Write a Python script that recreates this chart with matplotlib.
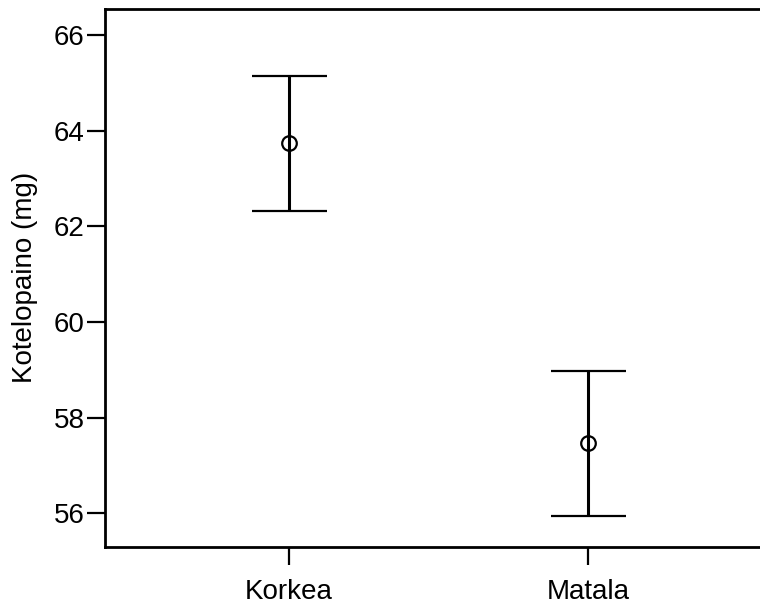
import matplotlib
matplotlib.use("Agg")
import matplotlib.pyplot as plt
import numpy as np

categories = ["Korkea", "Matala"]
means = [63.74, 57.46]
upper = [65.15, 58.98]
lower = [62.31, 55.94]
yticks = [56, 58, 60, 62, 64, 66]

plt.rcParams['font.family'] = ['Liberation Sans', 'DejaVu Sans']

fig = plt.figure(figsize=(7.6, 6.06), dpi=100)
ax = fig.add_axes([0.1388, 0.0979, 0.8612, 0.8877])

x = np.arange(len(categories))
m = np.array(means)
yerr = np.vstack([m - np.array(lower), np.array(upper) - m])
ax.errorbar(x, m, yerr=yerr, fmt='o', color='black', ecolor='black',
            elinewidth=2.2, capsize=27, capthick=2.2,
            markersize=10.5, markerfacecolor='none', markeredgewidth=1.6,
            markeredgecolor='black')

ax.set_xlim(-0.612, 1.575)
ax.set_ylim(55.30, 66.55)
ax.set_xticks(x)
ax.set_xticklabels(categories)
ax.set_yticks(yticks)
ax.set_ylabel("Kotelopaino (mg)", fontsize=20, labelpad=11)
ax.tick_params(axis='both', labelsize=20, length=13, width=1.6, color='black')
ax.tick_params(axis='x', pad=10)
ax.tick_params(axis='y', pad=2)
for s in ['left', 'bottom', 'top']:
    ax.spines[s].set_linewidth(2.0)
ax.spines['right'].set_visible(False)

fig.savefig("out.png", dpi=100)
